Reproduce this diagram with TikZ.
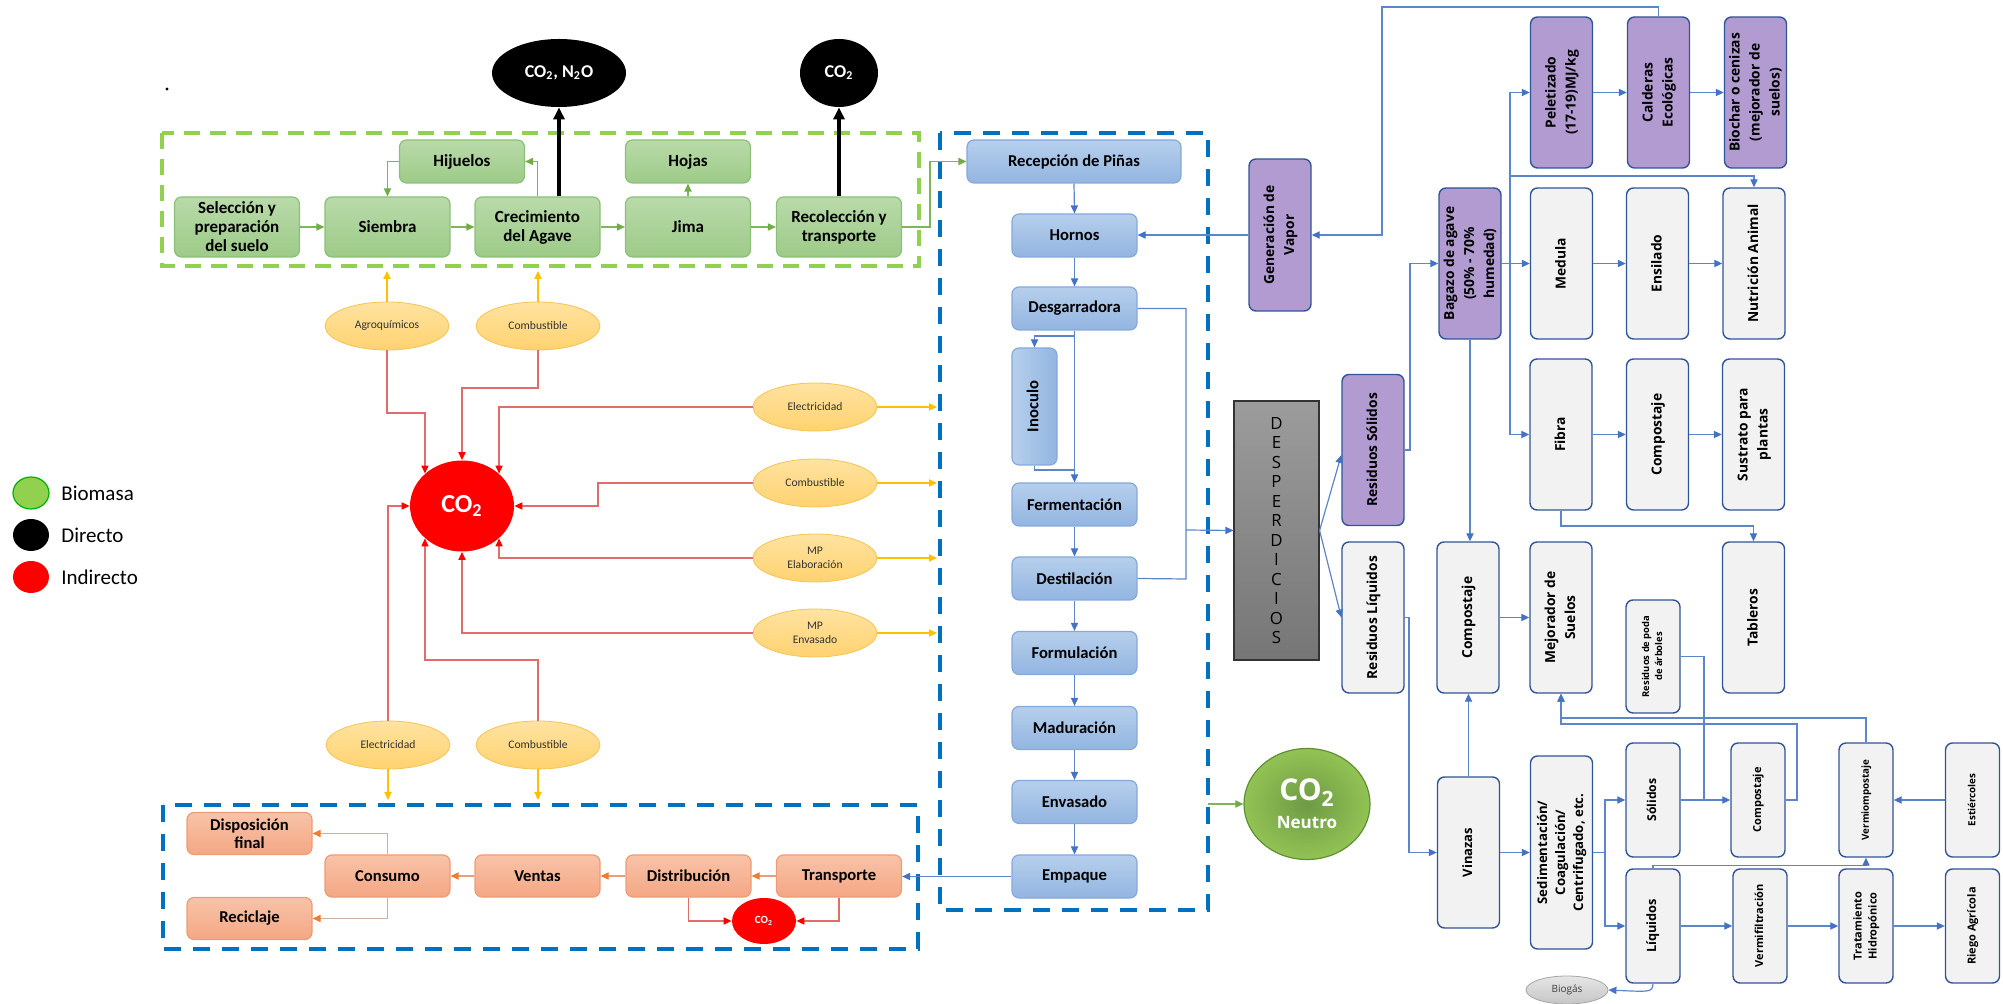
\documentclass[tikz,border=0pt]{standalone}
\usepackage{fontspec}
\usepackage{graphicx}
\setmainfont{Carlito}
\newfontfamily\seg{Open Sans}
\usetikzlibrary{arrows.meta,shapes.geometric}
\newcommand\rtx[1]{\rotatebox{90}{\begin{tabular}{@{}c@{}}#1\end{tabular}}}
\definecolor{gtop}{HTML}{B9DAAA}
\definecolor{gbot}{HTML}{9DCB88}
\definecolor{gbord}{HTML}{8CC078}
\definecolor{btop}{HTML}{B6CFEC}
\definecolor{bbot}{HTML}{93B5E1}
\definecolor{bbord}{HTML}{86A9DB}
\definecolor{otop}{HTML}{F8C3A8}
\definecolor{obot}{HTML}{F4A784}
\definecolor{obord}{HTML}{EE9C74}
\definecolor{ytop}{HTML}{FFE3A0}
\definecolor{ybot}{HTML}{FFD270}
\definecolor{ybord}{HTML}{F5C451}
\definecolor{purp}{HTML}{B29BD1}
\definecolor{navy}{HTML}{2F5597}
\definecolor{lgrey}{HTML}{F2F2F2}
\definecolor{gdash}{HTML}{92D050}
\definecolor{bdash}{HTML}{0070C0}
\definecolor{bline}{HTML}{5B86C9}
\definecolor{btip}{HTML}{4472C4}
\definecolor{rline}{HTML}{E06C6C}
\definecolor{gline}{HTML}{7DB55A}
\definecolor{gtip}{HTML}{70AD47}
\definecolor{gold}{HTML}{FFC000}
\definecolor{oline}{HTML}{E8A07A}
\definecolor{otip}{HTML}{ED7D31}
\definecolor{cline}{HTML}{C9B1A5}
\definecolor{dtop}{HTML}{9C9C9C}
\definecolor{dbot}{HTML}{767676}
\definecolor{nin}{HTML}{6E9A45}
\definecolor{nout}{HTML}{92C354}
\definecolor{nbord}{HTML}{5E8F33}
\begin{document}
\begin{tikzpicture}[x=0.5pt,y=-0.5pt,
  base/.style={rounded corners=3.5pt, align=center, inner sep=1pt, line width=0.6pt},
  gbox/.style={base, draw=gbord, top color=gtop, bottom color=gbot, font=\bfseries\fontsize{8.5pt}{9.5pt}\selectfont, minimum width=62.5pt, minimum height=30pt},
  bbox/.style={base, draw=bbord, top color=btop, bottom color=bbot, font=\bfseries\fontsize{8.3pt}{9.5pt}\selectfont, minimum width=62.5pt, minimum height=21.5pt},
  obox/.style={base, draw=obord, top color=otop, bottom color=obot, font=\bfseries\fontsize{8.3pt}{9pt}\selectfont, minimum width=62.5pt, minimum height=21pt},
  yell/.style={ellipse, draw=ybord, line width=0.4pt, top color=ytop, bottom color=ybot, minimum width=62pt, minimum height=24pt, inner sep=0pt, font=\fontsize{5.8pt}{7pt}\selectfont, text=black!80, align=center},
  rbox/.style={rounded corners=3.5pt, draw=navy, line width=0.7pt, inner sep=0pt, font=\seg\bfseries\fontsize{6.9pt}{10pt}\selectfont},
  pbox/.style={rbox, fill=purp, minimum width=31pt, minimum height=75.5pt},
  wbox/.style={rbox, fill=lgrey, minimum width=31pt, minimum height=75.5pt},
  sbox/.style={rbox, fill=lgrey, minimum width=27pt, minimum height=57pt, font=\seg\bfseries\fontsize{5.5pt}{7.5pt}\selectfont},
  ltxt/.style={anchor=west, inner sep=0pt, font=\fontsize{10.5pt}{12pt}\selectfont},
  ga/.style={draw=gline, line width=0.6pt, -{Triangle[length=4pt,width=3.6pt,color=gtip]}},
  ba/.style={draw=bline, line width=0.6pt, -{Triangle[length=4pt,width=3.6pt,color=btip]}},
  bl/.style={draw=bline, line width=0.6pt},
  ra/.style={draw=rline, line width=0.6pt, -{Triangle[length=4pt,width=3.6pt,color=red]}},
  ya/.style={draw=gold, line width=0.7pt, -{Triangle[length=4pt,width=3.6pt,color=gold]}},
  oa/.style={draw=oline, line width=0.6pt, -{Triangle[length=4pt,width=3.6pt,color=otip]}},
  oa2/.style={draw=cline, line width=0.6pt, -{Triangle[length=4pt,width=3.6pt,color=otip]}},
  ka/.style={draw=black, line width=2.2pt, -{Triangle[length=6pt,width=5.5pt]}}
]
\useasboundingbox (0,0) rectangle (2003,1004);
% frames
\draw[gdash, line width=2pt, dash pattern=on 8pt off 5pt] (162,133) rectangle (919,266);
\draw[bdash, line width=2pt, dash pattern=on 8.5pt off 6pt] (940,133) rectangle (1208,910);
\draw[bdash, line width=2pt, dash pattern=on 8.5pt off 6pt] (163,805) rectangle (918,949);

% dot
\node[circle, fill=black, inner sep=0pt, minimum size=1.6pt] (dot) at (167,89) {};

% legend
\node[ellipse, draw=green!70!black, line width=0.6pt, fill=gdash, minimum width=18pt, minimum height=16pt] (lg1) at (31,493) {};
\node[ellipse, fill=black, minimum width=18pt, minimum height=16pt] (lg2) at (31,535) {};
\node[ellipse, fill=red, minimum width=18pt, minimum height=16pt] (lg3) at (31,577) {};
\node[ltxt] (lt1) at (61,493) {Biomasa};
\node[ltxt] (lt2) at (61,535) {Directo};
\node[ltxt] (lt3) at (61,577) {Indirecto};

% green stage
\node[gbox] (sel) at (237,227) {Selección y\\preparación\\del suelo};
\node[gbox] (sie) at (387.5,227) {Siembra};
\node[gbox] (cre) at (537.5,227) {Crecimiento\\del Agave};
\node[gbox] (jim) at (688,227) {Jima};
\node[gbox] (rec) at (839,227) {Recolección y\\transporte};
\node[gbox, minimum height=21.5pt] (hij) at (462,161.5) {Hijuelos};
\node[gbox, minimum height=21.5pt] (hoj) at (688,161.5) {Hojas};

% emissions
\node[ellipse, fill=black, minimum width=67pt, minimum height=34pt, inner sep=0pt, text=white, font=\bfseries\fontsize{9pt}{10pt}\selectfont] (ghg) at (559,73) {CO\textsubscript{2}, N\textsubscript{2}O};
\node[ellipse, fill=black, minimum width=39pt, minimum height=34pt, inner sep=0pt, text=white, font=\bfseries\fontsize{9pt}{10pt}\selectfont] (co2b) at (839,73) {CO\textsubscript{2}};
\node[ellipse, fill=red, minimum width=52pt, minimum height=45.5pt, inner sep=0pt, text=white, font=\bfseries\fontsize{13pt}{14pt}\selectfont] (co2) at (462,506) {CO\textsubscript{2}};
\node[ellipse, fill=red, minimum width=32pt, minimum height=23pt, inner sep=0pt, text=white, font=\bfseries\fontsize{5.5pt}{6pt}\selectfont] (sco2) at (764,921) {CO\textsubscript{2}};
\node[ellipse, draw=nbord, line width=0.6pt, inner color=nin, outer color=nout, minimum width=63pt, minimum height=55.5pt, inner sep=0pt, text=white, align=center, font=\seg\bfseries] (neu) at (1307,804) {\fontsize{15pt}{16pt}\selectfont CO\textsubscript{2}\\[2pt]\fontsize{8.5pt}{10pt}\selectfont Neutro};

% inputs
\node[yell] (agro) at (387,326) {Agroquímicos};
\node[yell] (comb1) at (538,326) {Combustible};
\node[yell] (elec) at (815,407) {Electricidad};
\node[yell] (comb2) at (815,483) {Combustible};
\node[yell] (mpe) at (815,558) {MP\\Elaboración};
\node[yell] (mpv) at (815,633) {MP\\Envasado};
\node[yell] (elec2) at (388,745) {Electricidad};
\node[yell] (comb3) at (538,745) {Combustible};

% blue stage
\node[bbox, minimum width=107pt] (recp) at (1074,161.5) {Recepción de Piñas};
\node[bbox] (horn) at (1074.5,235.5) {Hornos};
\node[bbox] (desg) at (1074.5,308.5) {Desgarradora};
\node[base, draw=bbord, left color=btop, right color=bbot, font=\bfseries\fontsize{8.3pt}{9.5pt}\selectfont, minimum width=22.5pt, minimum height=58.5pt] (ino) at (1034.5,406.5) {\rtx{Inoculo}};
\node[bbox] (ferm) at (1074.5,504.5) {Fermentación};
\node[bbox] (dest) at (1074.5,578.5) {Destilación};
\node[bbox] (form) at (1074.5,653) {Formulación};
\node[bbox] (madu) at (1074.5,728) {Maduración};
\node[bbox] (enva) at (1074.5,802) {Envasado};
\node[bbox] (empa) at (1074.5,876.5) {Empaque};

% orange stage
\node[obox] (disp) at (249.5,833.5) {Disposición\\final};
\node[obox] (cons) at (387.5,876) {Consumo};
\node[obox] (vent) at (537.5,876) {Ventas};
\node[obox] (dist) at (688.5,876) {Distribución};
\node[obox] (tran) at (839,876) {Transporte};
\node[obox] (reci) at (249.5,918.5) {Reciclaje};

% waste
\node[draw=black!80, line width=0.6pt, top color=dtop, bottom color=dbot, minimum width=42.5pt, minimum height=129.5pt, inner sep=0pt, align=center, text=black, font=\seg\fontsize{8.4pt}{9.75pt}\selectfont] (desp) at (1276.5,530.5) {D\\E\\S\\P\\E\\R\\D\\I\\C\\I\\O\\S};
\node[pbox, minimum height=76pt] (gen) at (1280,235) {\rtx{Generación de\\Vapor}};
\node[pbox] (resS) at (1373,450) {\rtx{Residuos Sólidos}};
\node[wbox] (resL) at (1373,617.5) {\rtx{Residuos Líquidos}};
\node[pbox] (bag) at (1470,263.5) {\rtx{Bagazo de agave\\(50\% - 70\%\\humedad)}};
\node[pbox] (pel) at (1561.5,92.5) {\rtx{Peletizado\\(17-19)MJ/kg}};
\node[pbox] (cal) at (1658.5,92.5) {\rtx{Calderas\\Ecológicas}};
\node[pbox] (bio) at (1755.5,92.5) {\rtx{Biochar o cenizas\\(mejorador de\\suelos)}};
\node[wbox] (med) at (1561.5,263.5) {\rtx{Medula}};
\node[wbox] (ens) at (1657.5,263.5) {\rtx{Ensilado}};
\node[wbox] (nut) at (1754,263.5) {\rtx{Nutrición Animal}};
\node[wbox] (fib) at (1561,434.5) {\rtx{Fibra}};
\node[wbox] (com1) at (1657.5,434.5) {\rtx{Compostaje}};
\node[wbox] (sus) at (1753.5,434.5) {\rtx{Sustrato para\\plantas}};
\node[wbox] (comL) at (1468,617.5) {\rtx{Compostaje}};
\node[wbox] (mej) at (1561,617.5) {\rtx{Mejorador de\\Suelos}};
\node[wbox] (tab) at (1753.5,617.5) {\rtx{Tableros}};
\node[sbox, minimum height=56.5pt, font=\seg\bfseries\fontsize{4.7pt}{6.5pt}\selectfont] (poda) at (1653,656.5) {\rtx{Residuos de poda\\de árboles}};
\node[wbox, minimum height=75.5pt, font=\seg\bfseries\fontsize{6.5pt}{9pt}\selectfont] (vin) at (1468.5,852.5) {\rtx{Vinazas}};
\node[wbox, minimum height=96.5pt, font=\seg\bfseries\fontsize{6.6pt}{9pt}\selectfont] (sed) at (1561.5,852.5) {\rtx{Sedimentación/\\Coagulación/\\Centrifugado, etc.}};
\node[sbox, font=\seg\bfseries\fontsize{6.1pt}{8pt}\selectfont] (sol) at (1653,800) {\rtx{Sólidos}};
\node[sbox, font=\seg\bfseries\fontsize{6.4pt}{8pt}\selectfont] (liq) at (1653,926) {\rtx{Líquidos}};
\node[sbox] (comR) at (1758,800) {\rtx{Compostaje}};
\node[sbox, font=\seg\bfseries\fontsize{4.9pt}{7pt}\selectfont] (verm) at (1866,800) {\rtx{Vermiompostaje}};
\node[sbox, font=\seg\bfseries\fontsize{4.9pt}{7pt}\selectfont] (est) at (1972.5,800) {\rtx{Estiércoles}};
\node[sbox] (vfil) at (1760,926) {\rtx{Vermifiltración}};
\node[sbox] (trat) at (1866,926) {\rtx{Tratamiento\\Hidropónico}};
\node[sbox] (rieg) at (1972.5,926) {\rtx{Riego Agrícola}};
\node[ellipse, draw=gray!70, line width=0.4pt, top color=gray!20, bottom color=gray!45, minimum width=41pt, minimum height=14pt, inner sep=0pt, text=black!75, font=\seg\fontsize{5pt}{6pt}\selectfont] (biog) at (1567,990) {Biogás};

% ---------- connectors ----------
\coordinate (nb) at (1208,804);
% green
\draw[ga] (sel) -- (sie);
\draw[ga] (sie) -- (cre);
\draw[ga] (cre) -- (jim);
\draw[ga] (jim) -- (rec);
\draw[ga] (cre.north) |- (hij.east);
\draw[ga] (hij.west) -| (sie.north);
\draw[ga] (jim.north) -- (hoj.south);
\draw[ga] (rec.east) -- (930,227) |- (recp.west);
\draw[ga] (nb) -- (neu.west);
% black
\draw[ka] (cre.north -| ghg.south) -- (ghg.south);
\draw[ka] (rec.north) -- (co2b.south);
% yellow
\draw[ya] (agro.north) -- (agro.north |- 0,271);
\draw[ya] (comb1.north) -- (comb1.north |- 0,271);
\draw[ya] (elec.east) -- (elec.east -| 937,0);
\draw[ya] (comb2.east) -- (comb2.east -| 937,0);
\draw[ya] (mpe.east) -- (mpe.east -| 937,0);
\draw[ya] (mpv.east) -- (mpv.east -| 937,0);
\draw[ya] (elec2.south) -- (elec2.south |- 0,800);
\draw[ya] (comb3.south) -- (comb3.south |- 0,800);
% red
\draw[ra] (agro.south) -- (agro.south |- 0,413) -| (co2.north west);
\draw[ra] (comb1.south) -- (comb1.south |- 0,388) -| (co2.north);
\draw[ra] (elec.west) -| (co2.north east);
\draw[ra] (comb2.west) -- (598,483) |- (co2.east);
\draw[ra] (mpe.west) -| (co2.south east);
\draw[ra] (mpv.west) -| (co2.south);
\draw[ra] (elec2.north) |- (co2.west);
\draw[ra] (comb3.north) -- (comb3.north |- 0,660) -| (co2.south west);
\draw[ra] (dist.south) |- (sco2.west);
\draw[ra] (tran.south) |- (sco2.east);
% orange
\draw[oa] (tran) -- (dist);
\draw[oa] (dist) -- (vent);
\draw[oa] (vent) -- (cons);
\draw[oa2] (cons.north) |- (disp.east);
\draw[oa2] (cons.south) |- (reci.east);
% blue process
\draw[ba] (recp.south) -- (horn.north);
\draw[ba] (horn) -- (desg);
\draw[ba] (desg) -- (ferm);
\draw[ba] (desg.south |- 0,336) -| (ino.north);
\draw[bl] (ino.south) |- (ferm.north |- 0,470);
\draw[ba] (ferm) -- (dest);
\draw[ba] (dest) -- (form);
\draw[ba] (form) -- (madu);
\draw[ba] (madu) -- (enva);
\draw[ba] (enva) -- (empa);
\draw[ba] (empa.west) -- (empa.west -| tran.east);
\draw[bl] (desg.east) -| (1186,579) -- (dest.east);
\draw[ba] (1186,530) -- (desp.west);
\draw[ba] (gen.west) -- (gen.west -| horn.east);
\draw[ba] (cal.north) |- (1382,7) |- (gen.east);
% waste
\draw[ba] (desp.east) -- ([yshift=-2.5pt]resS.west);
\draw[ba] (desp.east) -- (resL.west);
\draw[ba] (resS.east) -- (1410,450) |- (bag.west);
\draw[ba] (bag.east) -- (med.west);
\draw[ba] (1510,263.5) |- (pel.west);
\draw[ba] (1510,263.5) |- (fib.west);
\draw[ba] (1510,176) -| (nut.north);
\draw[ba] (pel) -- (cal);
\draw[ba] (cal) -- (bio);
\draw[ba] (med) -- (ens);
\draw[ba] (ens) -- (nut);
\draw[ba] (fib) -- (com1);
\draw[ba] (com1) -- (sus);
\draw[ba] (bag.south) -- (bag.south |- comL.north);
\draw[ba] (fib.south) -- (fib.south |- 0,526) -| (tab.north);
\draw[ba] (comL) -- (mej);
\draw[ba] (resL.east) -- (1409,617.5) |- (vin.west);
\draw[ba] (vin.north) -- (vin.north |- comL.south);
\draw[ba] (vin) -- (sed);
\draw[ba] (sed.east) -- (1605,852.5) |- (sol.west);
\draw[ba] (1605,852.5) |- (liq.west);
\draw[ba] (sol) -- (comR);
\draw[bl] (poda.east) -| (1704,800);
\draw[ba] (comR.east) -- (1797,800) |- (mej.south |- 0,724) -- (mej.south);
\draw[ba] (verm.north) |- (mej.south |- 0,718) -- (mej.south);
\draw[ba] (est) -- (verm);
\draw[ba] (liq.north) -- ++(0,-3) -| (verm.south);
\draw[ba] (liq) -- (vfil);
\draw[ba] (vfil) -- (trat);
\draw[ba] (trat) -- (rieg);
\draw[ba] (liq.south) .. controls (1652,992) .. (biog.east);
\end{tikzpicture}
\end{document}
